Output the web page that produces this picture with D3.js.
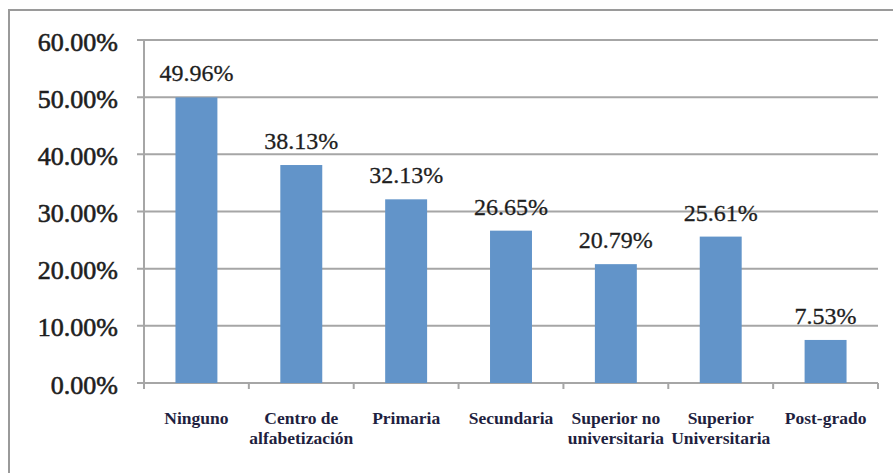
<!DOCTYPE html>
<html><head><meta charset="utf-8">
<script src="https://cdn.jsdelivr.net/npm/d3@7"></script>
<style>body{margin:0;background:#fff}svg{display:block}text{font-family:"Liberation Serif","Times New Roman",Times,serif}</style>
</head><body>
<script>
const categories = ["Ninguno", "Centro de\nalfabetización", "Primaria", "Secundaria", "Superior no\nuniversitaria", "Superior\nUniversitaria", "Post-grado"];
const values = [49.96, 38.13, 32.13, 26.65, 20.79, 25.61, 7.53];
const yTicks = [0, 10, 20, 30, 40, 50, 60];

(function() {
const W = 893, H = 473;
const svg = d3.select("body").append("svg").attr("width", W).attr("height", H);
svg.append("rect").attr("width", W).attr("height", H).attr("fill", "#fff");
svg.append("rect").attr("x", 9).attr("y", 10).attr("width", 920).attr("height", 500)
  .attr("fill", "none").attr("stroke", "#9a9a9a").attr("stroke-width", 2);

const pl = 144, pr = 878, pt = 40, pb = 383;
const x = d3.scaleBand().domain(d3.range(categories.length)).range([pl, pr]).paddingInner(0.6).paddingOuter(0.3);
const xb = d3.scaleBand().domain(d3.range(categories.length)).range([pl, pr]);
const y = d3.scaleLinear().domain([0, 60]).range([pb, pt]);

svg.append("g").selectAll("line").data(yTicks).join("line")
  .attr("x1", pl - 7).attr("x2", pr).attr("y1", d => y(d)).attr("y2", d => y(d))
  .attr("stroke", "#a6a6a6").attr("stroke-width", 2);
svg.append("line").attr("x1", pl).attr("x2", pl).attr("y1", pt).attr("y2", pb)
  .attr("stroke", "#a6a6a6").attr("stroke-width", 2);
svg.append("g").selectAll("line").data(d3.range(categories.length + 1)).join("line")
  .attr("x1", i => pl + i * xb.bandwidth()).attr("x2", i => pl + i * xb.bandwidth())
  .attr("y1", pb).attr("y2", pb + 6).attr("stroke", "#a6a6a6").attr("stroke-width", 2);

svg.append("g").selectAll("text").data(yTicks).join("text")
  .attr("x", 118).attr("y", d => y(d) + 10.5).attr("text-anchor", "end")
  .attr("font-size", 26).attr("fill", "#1e1e1e")
  .attr("stroke", "#1e1e1e").attr("stroke-width", 0.6)
  .text(d => d.toFixed(2) + "%");

svg.append("g").selectAll("rect").data(values).join("rect")
  .attr("x", (d, i) => x(i)).attr("width", x.bandwidth())
  .attr("y", d => y(d)).attr("height", d => pb - y(d))
  .attr("fill", "#6294c9");

svg.append("g").selectAll("text").data(values).join("text")
  .attr("x", (d, i) => x(i) + x.bandwidth() / 2).attr("y", d => y(d) - 16)
  .attr("text-anchor", "middle").attr("font-size", 24)
  .attr("fill", "#1e1e1e").attr("stroke", "#1e1e1e").attr("stroke-width", 0.3)
  .text(d => d.toFixed(2) + "%");

const cl = svg.append("g").selectAll("text").data(categories).join("text")
  .attr("text-anchor", "middle").attr("font-size", 17.5)
  .attr("font-weight", "bold").attr("fill", "#1f1f40");
cl.each(function(d, i) {
  const t = d3.select(this);
  d.split("\n").forEach((line, j) => {
    t.append("tspan").attr("x", xb(i) + xb.bandwidth() / 2).attr("y", 424 + j * 19.5).text(line);
  });
});
})();
</script>
</body></html>
